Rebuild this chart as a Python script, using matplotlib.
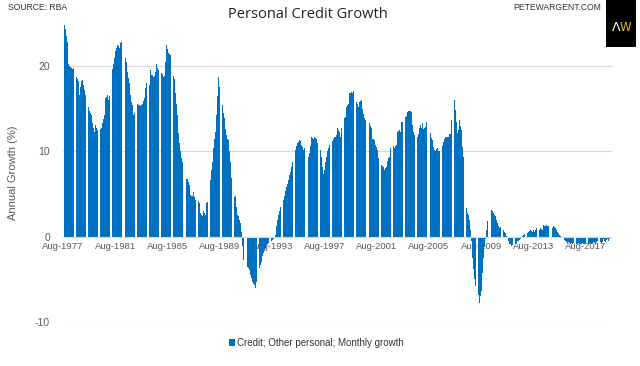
import matplotlib
matplotlib.use("Agg")
import matplotlib.pyplot as plt
import numpy as np

# Monthly annual growth (%), Aug-1977 onwards, one row per 12 months (Aug..Jul)
growth = [
    25.0, 24.8, 24.3, 23.5, 22.8, 20.3, 20.0, 19.9, 19.8, 19.7, 19.8, 19.5,
    18.7, 18.5, 18.2, 16.6, 17.5, 18.2, 18.4, 17.8, 17.2, 16.6, 16.0, 15.2,
    14.7, 14.5, 14.3, 13.3, 12.8, 12.3, 13.1, 12.8, 12.5, 12.6, 12.6, 12.7,
    13.3, 13.8, 14.3, 16.2, 16.4, 16.6, 16.0, 16.5, 17.4, 19.7, 20.3, 20.9,
    21.8, 22.1, 22.5, 22.3, 22.1, 22.7, 22.8, 22.6, 21.5, 20.9, 20.5, 19.3,
    18.6, 18.0, 16.6, 15.8, 15.4, 14.3, 14.5, 14.9, 15.5, 15.4, 15.4, 15.3,
    15.4, 15.6, 15.9, 16.2, 17.4, 18.0, 18.4, 17.8, 19.5, 19.0, 18.9, 18.7,
    18.8, 19.3, 20.2, 19.8, 19.5, 19.3, 19.2, 19.1, 18.7, 18.8, 20.5, 22.5,
    22.0, 21.5, 21.4, 21.3, 19.1, 18.8, 18.5, 16.8, 15.5, 14.3, 12.1, 11.0,
    10.0, 9.2, 8.8, 7.3, 6.7, 6.8, 6.8, 6.4, 6.1, 4.9, 4.8, 4.8,
    5.2, 4.6, 4.3, 4.5, 4.2, 3.9, 2.8, 2.5, 2.4, 3.0, 2.8, 2.6,
    3.9, 4.1, 5.2, 6.7, 7.8, 8.8, 10.4, 11.5, 12.3, 14.3, 16.5, 18.7,
    17.5, 17.0, 15.4, 14.5, 13.9, 12.6, 11.9, 11.5, 11.3, 10.0, 8.8, 6.9,
    5.5, 4.7, 4.8, 3.5, 2.6, 2.4, 1.9, 1.6, 0.6, -1.1, -2.7, -3.5,
    -4.2, -3.5, -3.7, -3.9, -4.5, -4.9, -5.3, -5.5, -5.7, -6.0, -5.3, -4.5,
    -3.7, -3.3, -3.0, -2.3, -1.9, -1.6, -1.3, -1.0, -0.9, -0.7, -0.6, -0.5,
    -0.4, -0.3, -0.2, 0.2, 1.3, 2.0, 2.5, 3.0, 3.5, 3.9, 4.3, 4.8,
    5.3, 5.8, 6.2, 6.7, 7.2, 7.6, 8.2, 8.8, 9.3, 10.2, 10.6, 11.0,
    11.1, 11.3, 11.2, 10.8, 10.5, 10.2, 10.4, 9.9, 9.7, 9.4, 9.8, 10.6,
    11.7, 11.6, 11.5, 11.7, 11.6, 11.5, 11.0, 10.6, 10.2, 9.3, 8.2, 7.3,
    7.8, 8.8, 9.4, 10.0, 10.4, 10.8, 11.0, 11.2, 11.4, 11.7, 11.7, 11.9,
    12.7, 12.5, 12.3, 11.7, 12.8, 13.7, 13.9, 14.0, 15.2, 15.4, 15.6, 16.8,
    16.9, 17.0, 16.8, 17.1, 17.4, 15.8, 15.5, 15.2, 15.8, 15.9, 16.0, 15.0,
    14.4, 13.9, 13.7, 13.8, 14.0, 13.3, 13.0, 12.7, 11.5, 11.4, 11.3, 10.8,
    10.5, 10.2, 9.2, 8.8, 8.4, 8.3, 8.2, 7.8, 8.0, 8.2, 8.9, 9.2,
    9.4, 10.4, 10.5, 10.6, 10.4, 10.6, 10.8, 12.3, 12.4, 12.5, 12.3, 13.5,
    13.5, 13.9, 14.0, 14.2, 14.6, 14.7, 14.7, 14.7, 14.6, 13.1, 12.3, 11.9,
    11.1, 11.7, 12.0, 12.7, 13.1, 12.8, 13.3, 12.6, 12.8, 12.9, 13.5, 13.2,
    12.9, 12.1, 11.6, 11.3, 10.5, 10.2, 10.0, 10.3, 10.4, 10.0, 10.1, 10.2,
    10.6, 11.1, 11.4, 11.7, 11.7, 11.7, 11.7, 12.0, 12.0, 13.7, 15.5, 16.0,
    14.8, 13.5, 12.1, 12.5, 13.7, 13.0, 12.5, 10.5, 9.4, 8.4, 3.4, 2.8,
    2.6, 2.0, 0.8, -0.5, -2.5, -3.8, -5.0, -5.8, -6.4, -6.8, -7.8, -7.0,
    -6.4, -4.2, -2.5, -1.2, -0.3, 0.8, 1.8, 2.8, 3.2, 3.1, 3.0, 2.8,
    2.6, 2.4, 2.0, 1.6, 1.2, 1.0, 1.1, 1.2, 0.8, 0.6, 0.4, 0.1,
    -0.2, -0.5, -0.8, -0.9, -1.1, -1.0, -0.9, -0.8, -0.7, -0.5, -0.5, -0.4,
    -0.3, -0.1, 0.1, 0.2, 0.3, 0.4, 0.4, 0.6, 0.7, 0.8, 0.7, 0.6,
    0.8, 0.6, 0.8, 1.0, 0.9, 0.8, 1.0, 0.9, 0.8, 1.4, 1.3, 1.2,
    1.4, 1.3, 1.2, 1.4, 1.2, 1.0, 1.2, 1.1, 1.0, 0.8, 0.6, 0.4,
    0.2, 0.1, 0.0, -0.2, -0.4, -0.5, -0.6, -0.7, -0.6, -0.7, -0.8, -0.7,
    -0.8, -0.7, -0.8, -0.9, -0.8, -0.7, -0.8, -0.9, -0.8, -0.7, -0.8, -0.8,
    -0.7, -0.8, -0.9, -0.8, -0.7, -0.8, -0.7, -0.6, -0.7, -0.8, -0.6, -0.5,
    -0.4, -0.6, -0.7, -0.6, -0.3, -0.5, -0.6, -0.4, -0.3, -0.5, -0.3, -0.2,
]

tick_labels = ["Aug-1977", "Aug-1981", "Aug-1985", "Aug-1989", "Aug-1993",
               "Aug-1997", "Aug-2001", "Aug-2005", "Aug-2009", "Aug-2013",
               "Aug-2017"]
y_ticks = [-10, 0, 10, 20]

BLUE = "#0070C0"
GRID = "#d9d9d9"
TXT = "#595959"
FONT = ["Liberation Sans", "DejaVu Sans"]

fig = plt.figure(figsize=(6.4, 3.66), dpi=100)
ax = fig.add_axes([62.5 / 640, 1 - 322 / 366, 549 / 640, (322 - 23) / 366])

# position spines first (this resets tick formatting)
for s in ["top", "right", "left"]:
    ax.spines[s].set_visible(False)
ax.spines["bottom"].set_position(("data", 0))
ax.spines["bottom"].set_color(GRID)
ax.spines["bottom"].set_linewidth(0.8)

n = len(growth)
xpos = np.arange(n)
ax.bar(xpos, growth, width=0.82, color=BLUE, linewidth=0, zorder=2,
       label="Credit; Other personal; Monthly growth")

ax.set_xlim(-0.5, n - 0.5)
ax.set_ylim(-10, 25.05)
ax.set_yticks(y_ticks)
ax.set_yticklabels([str(v) for v in y_ticks], fontsize=7.5, color=TXT,
                   family=FONT)
ax.yaxis.grid(True, color=GRID, linewidth=0.8, zorder=0)
ax.set_axisbelow(True)

tick_pos = [i * 48 for i in range(len(tick_labels))]
ax.set_xticks(tick_pos)
ax.set_xticklabels(tick_labels, fontsize=6.8, color=TXT, family=FONT)
ax.tick_params(axis="y", length=0, pad=9)
ax.tick_params(axis="x", length=0, pad=4)

ax.set_ylabel("Annual Growth (%)", fontsize=8, color=TXT, family=FONT,
              labelpad=12)

fig.text(308 / 640, 1 - 14 / 366, "Personal Credit Growth", ha="center",
         va="center", fontsize=10.5, family=["Open Sans", "DejaVu Sans"],
         color="#222222")
fig.text(8 / 640, 1 - 8 / 366, "SOURCE: RBA", ha="left", va="center",
         fontsize=6.2, family=FONT, color="#333333")
fig.text(601 / 640, 1 - 7 / 366, "PETEWARGENT.COM", ha="right", va="center",
         fontsize=6.2, family=FONT, color="#333333")

# logo
logo = fig.add_axes([606 / 640, 1 - 47 / 366, 30 / 640, 47 / 366])
logo.set_facecolor("black")
logo.set_xticks([])
logo.set_yticks([])
for s in logo.spines.values():
    s.set_visible(False)
logo.text(0.33, 0.42, "Λ", color="white", ha="center", va="center",
          fontsize=9, family=["DejaVu Sans"], transform=logo.transAxes)
logo.text(0.65, 0.42, "W", color="#d4c21a", ha="center", va="center",
          fontsize=8.5, family=["DejaVu Sans"], transform=logo.transAxes)

leg = fig.legend(loc="center", bbox_to_anchor=(316 / 640, 1 - 343 / 366),
                 frameon=False, handlelength=0.6,
                 handleheight=0.6, handletextpad=0.2,
                 prop={"family": FONT, "size": 7})
for t in leg.get_texts():
    t.set_color("#333333")

fig.savefig("out.png", dpi=100, facecolor="white")
